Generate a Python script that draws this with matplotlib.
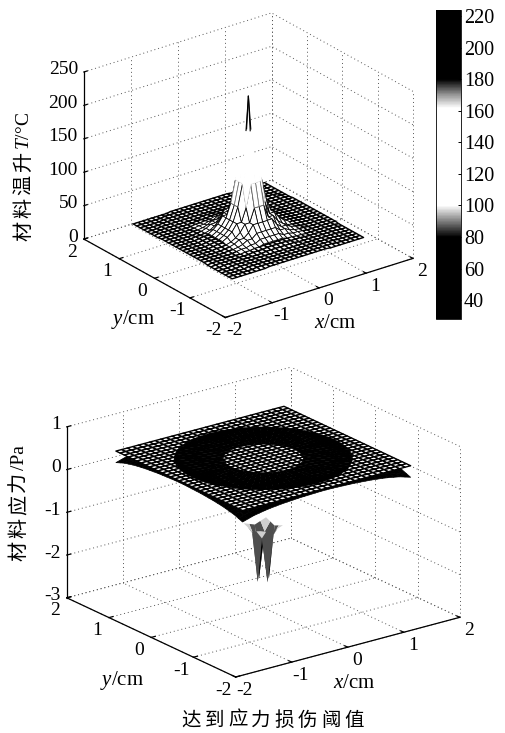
import numpy as np
import matplotlib
matplotlib.use("Agg")
import matplotlib.pyplot as plt
from matplotlib.cm import ScalarMappable
from matplotlib.colors import LinearSegmentedColormap, Normalize
from mpl_toolkits.mplot3d import proj3d

plt.rcParams["font.family"] = ["Liberation Serif", "DejaVu Serif"]
plt.rcParams["mathtext.fontset"] = "custom"
plt.rcParams["mathtext.rm"] = "Liberation Serif"
plt.rcParams["mathtext.it"] = "Liberation Serif:italic"

W, H = 506, 733
CJK = ["Noto Sans CJK SC", "DejaVu Sans"]

xy_ticks = [-2, -1, 0, 1, 2]
temp_ticks = [0, 50, 100, 150, 200, 250]
stress_ticks = [-3, -2, -1, 0, 1]
cbar_ticks = [40, 60, 80, 100, 120, 140, 160, 180, 200, 220]
cbar_range = [28, 224]

# colour map as it looks in the print: value -> grey level
map_values = [28, 80, 90, 100, 162, 170, 180, 224]
map_greys = [0.0, 0.0, 0.5, 1.0, 1.0, 0.6, 0.0, 0.0]

# temperature by distance from centre, one entry per 0.1 cm
temp_grid_half = 14
temp_peak_half = 7
temp_rim = 30
temp_radial = [228, 130, 105, 72, 52, 42, 36, 32, 30, 29, 28, 28,
               28, 28, 28, 28, 27, 27, 27, 27, 27]
temp_tip_black = 178

# stress sheets
stress_grid_half = 15
plate_level = 0.49
ring_inner, ring_outer = 0.57, 1.27
under_base = 0.68
under_drop = [0, 0, 0.005, 0.01, 0.015, 0.02, 0.03, 0.04, 0.05, 0.065,
              0.08, 0.1, 0.125, 0.15, 0.19, 0.23]

# central dip: squared grid distance -> stress
dip_d2 = [0, 1, 2, 4, 5, 8]
dip_z = [-1.5, -2.36, -1.3, -1.15, -1.1, -1.05]
dip_half = 2
dip_levels = [-2.4, -1.85, -1.48, -1.15, -0.9]
dip_greys = [0.0, 0.0, 0.3, 0.8, 1.0]

cmap = LinearSegmentedColormap.from_list(
    "print", [((v - cbar_range[0]) / (cbar_range[1] - cbar_range[0]), (g, g, g))
              for v, g in zip(map_values, map_greys)], N=512)
norm = Normalize(*cbar_range)


def px(x, y):
    return x / W, 1 - y / H


def cell_mean(Z):
    return (Z[:-1, :-1] + Z[1:, :-1] + Z[:-1, 1:] + Z[1:, 1:]) / 4


def project(ax, x, y, z):
    xp, yp, _ = proj3d.proj_transform(x, y, z, ax.get_proj())
    return xp, yp


def fit_box(ax, corners, targets):
    """Resize the square axes so the box corners land on the wanted pixels."""
    for _ in range(3):
        ax.apply_aspect()
        got = ax.transData.transform([project(ax, *c) for c in corners])
        want = np.array([(tx, H - ty) for tx, ty in targets], float)
        k = np.ptp(want[:, 0]) / np.ptp(got[:, 0])
        pos = ax.get_position(original=True)
        size = pos.width * W * k
        cx = (got[:, 0].mean() - pos.x0 * W) * k
        cy = (got[:, 1].mean() - pos.y0 * H) * k
        left = want[:, 0].mean() - cx
        bottom = want[:, 1].mean() - cy
        ax.set_position([left / W, bottom / H, size / W, size / H])
    ax.apply_aspect()


def make_box(pos, elev, aspect, zticks):
    ax = fig.add_axes(pos, projection="3d", computed_zorder=False)
    ax.set_proj_type("ortho")
    ax.view_init(elev=elev, azim=-127)
    ax.set_box_aspect(aspect)
    ax.set_xlim(-2, 2, view_margin=0)
    ax.set_ylim(-2, 2, view_margin=0)
    ax.set_zlim(zticks[0], zticks[-1], view_margin=0)
    ax.set_axis_off()
    ax.patch.set_alpha(0)

    z0, z1 = zticks[0], zticks[-1]
    dot = dict(color="#555555", lw=0.7, ls=(0, (1, 3)), zorder=1)
    for t in xy_ticks:
        ax.plot([t, t], [-2, 2], [z0, z0], **dot)
        ax.plot([-2, 2], [t, t], [z0, z0], **dot)
        ax.plot([t, t], [2, 2], [z0, z1], **dot)
        ax.plot([2, 2], [t, t], [z0, z1], **dot)
    for t in zticks:
        ax.plot([-2, 2], [2, 2], [t, t], **dot)
        ax.plot([2, 2], [-2, 2], [t, t], **dot)

    solid = dict(color="black", lw=0.9, zorder=2)
    ax.plot([-2, 2], [-2, -2], [z0, z0], **solid)
    ax.plot([-2, -2], [-2, 2], [z0, z0], **solid)
    ax.plot([-2, -2], [2, 2], [z0, z1], **solid)
    for t in xy_ticks:
        ax.plot([t, t], [-2, -1.93], [z0, z0], **solid)
        ax.plot([-2, -1.93], [t, t], [z0, z0], **solid)
    for t in zticks:
        ax.plot([-2, -1.93], [2, 2], [t, t], **solid)
    return ax


def label_ticks(ax, zticks, fs=14):
    z0 = zticks[0]
    for t in xy_ticks:
        xp, yp = project(ax, t, -2, z0)
        ax.annotate(str(t), (xp, yp), xytext=(9, -13), textcoords="offset pixels",
                    ha="center", va="center", fontsize=fs)
        xp, yp = project(ax, -2, t, z0)
        ax.annotate(str(t), (xp, yp), xytext=(-12, -13), textcoords="offset pixels",
                    ha="center", va="center", fontsize=fs)
    for t in zticks:
        xp, yp = project(ax, -2, 2, t)
        ax.annotate(str(t), (xp, yp), xytext=(-6, 2), textcoords="offset pixels",
                    ha="right", va="center", fontsize=fs)


def spaced_label(x, y_start, text, step=23):
    for i, ch in enumerate(text):
        fig.text(*px(x, y_start - (i + 0.5) * step), ch, family=CJK, fontsize=14.5,
                 rotation=90, ha="center", va="center")


fig = plt.figure(figsize=(W / 100, H / 100), dpi=100, facecolor="white")

# top panel: temperature mesh, white faces with edges coloured by value
ax1 = make_box([0.1, 0.5, 300 / W, 300 / H], 24.7, (235, 235, 184), temp_ticks)
idx = np.arange(-temp_grid_half, temp_grid_half + 1)
I, J = np.meshgrid(idx, idx)
T = np.array(temp_radial, float)[np.rint(np.hypot(I, J)).astype(int)]
# flat part drawn heavy, the peak on top of it with thinner lines
ax1.plot_surface(I / 10, J / 10, np.minimum(T, temp_rim), rstride=1, cstride=1, shade=False,
                 color="white", edgecolor="black", linewidth=1.0, zorder=4)
n0 = temp_grid_half - temp_peak_half
n1 = temp_grid_half + temp_peak_half + 1
T_peak = T[n0:n1, n0:n1]
surf = ax1.plot_surface(I[n0:n1, n0:n1] / 10, J[n0:n1, n0:n1] / 10, T_peak, rstride=1, cstride=1,
                        shade=False, color="white", linewidth=0.55, zorder=5)
surf.set_edgecolor(cmap(norm(cell_mean(T_peak))).reshape(-1, 4))
# the part of the central edges that stays above the black level
reach = 0.1 * (temp_radial[0] - temp_tip_black) / (temp_radial[0] - temp_radial[1])
for dx, dy in [(reach, 0), (-reach, 0), (0, reach), (0, -reach)]:
    ax1.plot([0, dx], [0, dy], [temp_radial[0], temp_tip_black],
             color="black", lw=0.8, zorder=6)
fit_box(ax1, [(-2, 2, 0), (2, -2, 0), (-2, -2, 0), (-2, 2, 250)],
        [(84, 238), (413, 260), (225, 318), (84, 71)])
label_ticks(ax1, temp_ticks)

# bottom panel: stress sheets
ax2 = make_box([0.1, 0.05, 300 / W, 300 / H], 20.7, (281, 281, 183), stress_ticks)
dip_idx = np.arange(-dip_half, dip_half + 1)
I, J = np.meshgrid(dip_idx, dip_idx)
dip_lookup = dict(zip(dip_d2, dip_z))
D = np.vectorize(lambda d: dip_lookup[d])(I ** 2 + J ** 2)
dip_cmap = LinearSegmentedColormap.from_list(
    "dip", [((v - dip_levels[0]) / (dip_levels[-1] - dip_levels[0]), (g, g, g))
            for v, g in zip(dip_levels, dip_greys)])
dip_col = dip_cmap(Normalize(dip_levels[0], dip_levels[-1])(cell_mean(D)))
ax2.plot_surface(I / 10, J / 10, D, rstride=1, cstride=1, shade=False,
                 facecolors=dip_col, edgecolor="none", linewidth=0, zorder=4)

idx = np.arange(-stress_grid_half, stress_grid_half + 1)
I, J = np.meshgrid(idx, idx)
drop = np.array(under_drop)
under = np.minimum(under_base - drop[np.abs(I)] - drop[np.abs(J)], plate_level)
ax2.plot_surface(I / 10, J / 10, under, rstride=1, cstride=1, shade=False,
                 color="black", edgecolor="black", linewidth=0.5, zorder=5)

plate = np.full(I.shape, plate_level)
ax2.plot_surface(I / 10, J / 10, plate, rstride=1, cstride=1, shade=False,
                 color="white", edgecolor="black", linewidth=1.0, zorder=6)

# solid black ring on the plate
theta, rad = np.meshgrid(np.radians(np.arange(0, 361, 5)), [ring_inner, ring_outer])
ax2.plot_surface(rad * np.cos(theta), rad * np.sin(theta), np.full(rad.shape, plate_level),
                 rstride=1, cstride=1, shade=False, color="black", edgecolor="black",
                 linewidth=0.3, zorder=7)

fit_box(ax2, [(-2, 2, -3), (2, -2, -3), (-2, -2, -3), (-2, 2, 1)],
        [(67, 598), (460, 617), (235, 677), (67, 427)])
label_ticks(ax2, stress_ticks)

# colour bar
cax = fig.add_axes([436 / W, 1 - 319 / H, 25 / W, 309 / H])
cb = fig.colorbar(ScalarMappable(norm=norm, cmap=cmap), cax=cax, ticks=cbar_ticks)
cb.ax.tick_params(labelsize=14.5, length=2, width=0.7, direction="in", pad=2)
cb.outline.set_linewidth(0.6)

# axis names
fig.text(*px(133, 320), r"$\mathit{y}$/cm", fontsize=15, ha="center", va="center")
fig.text(*px(335, 323), r"$\mathit{x}$/cm", fontsize=15, ha="center", va="center")
fig.text(*px(122, 681), r"$\mathit{y}$/cm", fontsize=15, ha="center", va="center")
fig.text(*px(354, 684), r"$\mathit{x}$/cm", fontsize=15, ha="center", va="center")

spaced_label(24, 242, "材料温升")
fig.text(*px(25, 150), r"$\mathit{T}$/°C", fontsize=14, rotation=90,
         ha="center", va="bottom")
spaced_label(19, 562, "材料应力")
fig.text(*px(20, 470), "/Pa", fontsize=14, rotation=90, ha="center", va="bottom")

caption = "达到应力损伤阈值"
for i, ch in enumerate(caption):
    fig.text(*px(191 + i * 23.3, 720), ch, family=CJK, fontsize=14,
             ha="center", va="center")

fig.savefig("out.png", dpi=100, facecolor="white")
